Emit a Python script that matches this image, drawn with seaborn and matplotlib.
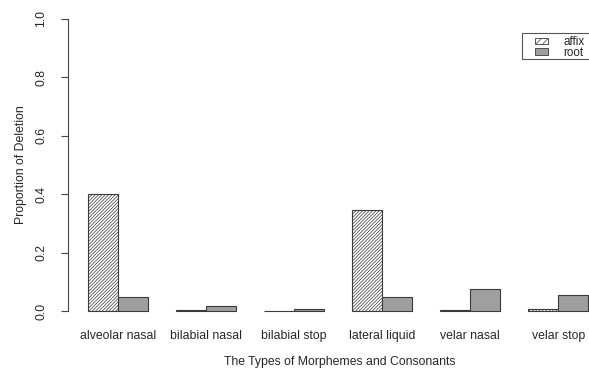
import matplotlib
matplotlib.use("Agg")
import matplotlib.pyplot as plt
from matplotlib.patches import Patch, Rectangle
import seaborn as sns
import pandas as pd

categories = ["alveolar nasal", "bilabial nasal", "bilabial stop",
              "lateral liquid", "velar nasal", "velar stop"]
affix = [0.400, 0.003, 0.001, 0.346, 0.003, 0.008]
root = [0.048, 0.016, 0.008, 0.048, 0.075, 0.055]
groups = ["affix", "root"]
y_ticks = [0.0, 0.2, 0.4, 0.6, 0.8, 1.0]

df = pd.DataFrame({
    "type": categories * 2,
    "morpheme": ["affix"] * len(affix) + ["root"] * len(root),
    "prop": affix + root,
})

sns.set_style("white")
plt.rcParams["font.family"] = ["Liberation Sans", "DejaVu Sans"]
plt.rcParams["hatch.linewidth"] = 0.5

FS = 8.8
W, H = 589, 369
fig = plt.figure(figsize=(W / 100, H / 100), dpi=100)
left, right, top, bottom = 68, 611, 7.3, 322.7
ax = fig.add_axes([left / W, 1 - bottom / H, (right - left) / W, (bottom - top) / H])

fills = {"affix": "white", "root": "#9f9f9f"}
sns.barplot(data=df, x="type", y="prop", hue="morpheme", order=categories,
            hue_order=groups, palette=fills, width=0.682, edgecolor="#3a3a3a",
            linewidth=0.8, ax=ax, legend=False, saturation=1)

hatches = {"affix": "//////////", "root": ""}
for cont, g in zip(ax.containers, groups):
    for bar in cont:
        bar.set_hatch(hatches[g])

ax.set_ylim(-0.04, 1.04)
ax.set_xlim(-0.568, 5.6)

for s in ["top", "right", "bottom"]:
    ax.spines[s].set_visible(False)
ax.spines["left"].set_bounds(0, 1)
ax.spines["left"].set_color("#444444")
ax.spines["left"].set_linewidth(0.8)

ax.set_yticks(y_ticks)
ax.set_yticklabels([f"{v:.1f}" for v in y_ticks], rotation=90, va="center")
ax.tick_params(axis="y", direction="out", length=5, width=0.8, color="#444444",
               labelsize=FS, pad=10, left=True)
ax.tick_params(axis="x", length=0, labelsize=FS, pad=5)

ax.set_xlabel("The Types of Morphemes and Consonants", fontsize=FS, labelpad=10)
ax.set_ylabel("Proportion of Deletion", fontsize=FS, labelpad=6)

# legend entries, with a plain square frame running off the right edge
handles = [Patch(facecolor=fills[g], edgecolor="#3a3a3a",
                 hatch="/////" if hatches[g] else "", linewidth=0.6, label=g)
           for g in groups]
fig.legend(handles=handles, loc="upper left", bbox_to_anchor=(535 / W, 1 - 36 / H),
           frameon=False, fontsize=8.4, handlelength=1.1, handleheight=0.45,
           handletextpad=1.3, borderpad=0, borderaxespad=0, labelspacing=-0.12)
fig.patches.append(Rectangle((522 / W, 1 - 59 / H), 90 / W, 26 / H,
                             transform=fig.transFigure, facecolor="none",
                             edgecolor="#555555", linewidth=0.8, clip_on=False))

fig.savefig("out.png", dpi=100)
